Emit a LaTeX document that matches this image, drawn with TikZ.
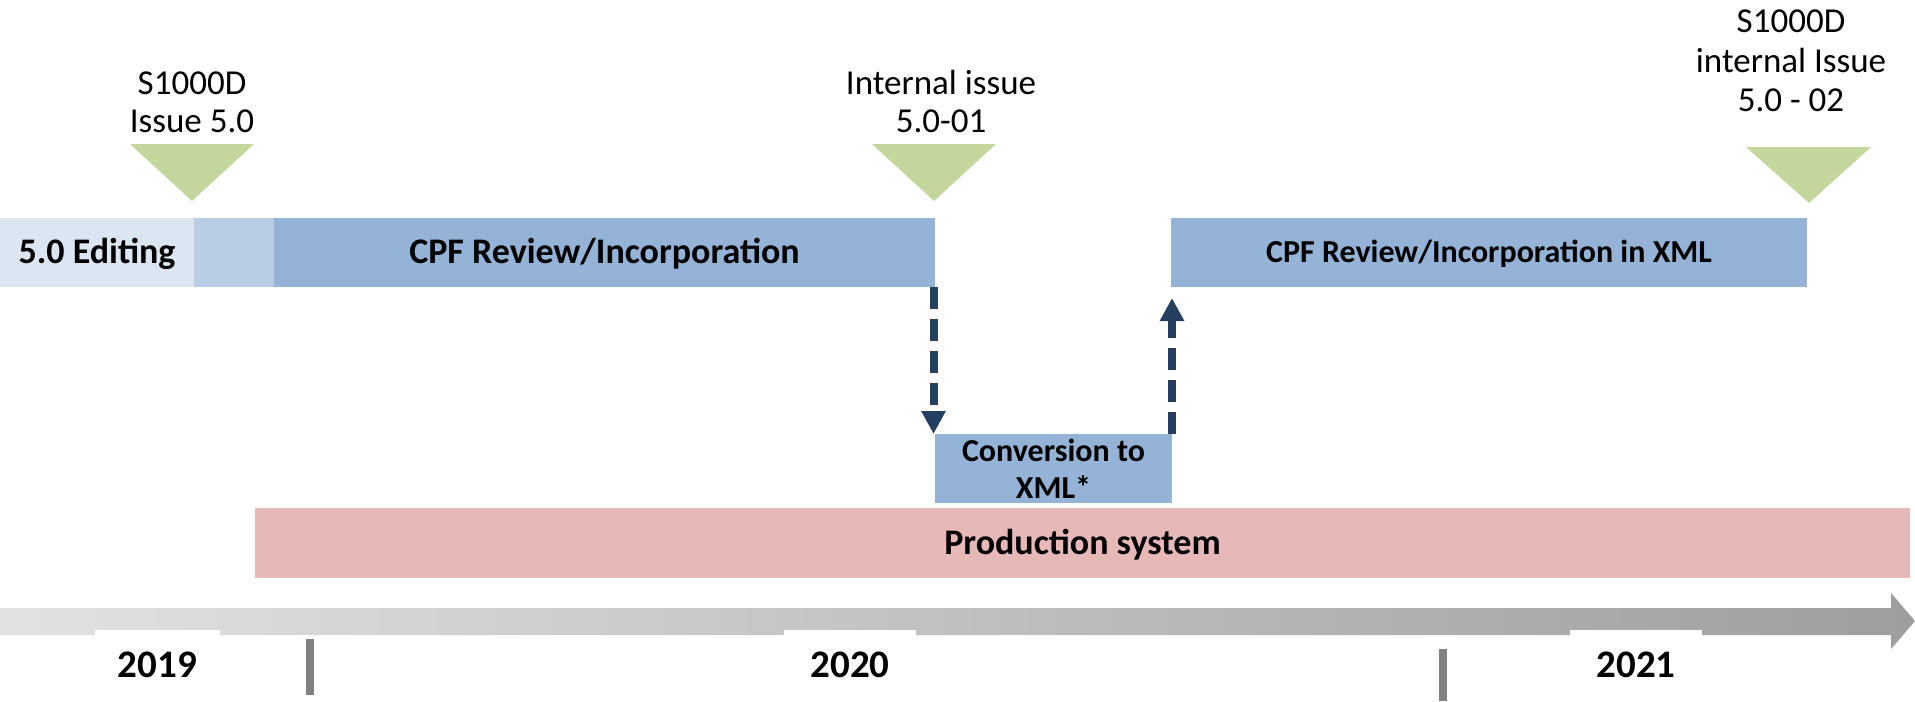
\documentclass[tikz,border=0pt]{standalone}
\usepackage{fontspec}
\setmainfont{Carlito}
\usetikzlibrary{arrows.meta}
\definecolor{editA}{HTML}{DCE6F2}
\definecolor{editB}{HTML}{B9CDE5}
\definecolor{cpfc}{HTML}{95B3D7}
\definecolor{greenc}{HTML}{C3D69B}
\definecolor{prodc}{HTML}{E6B9B8}
\definecolor{arrowc}{HTML}{243F60}
\definecolor{bandL}{HTML}{E2E2E2}
\definecolor{bandR}{HTML}{9E9E9E}
\definecolor{tickc}{HTML}{808080}
\begin{document}
\begin{tikzpicture}[x=0.5pt,y=-0.5pt,
  bar/.style={inner sep=0pt, outer sep=0pt, draw=none, minimum height=34.5pt},
  bartext/.style={font=\bfseries\fontsize{18}{21}\selectfont, text height=11.4pt, text depth=0pt},
  lbl/.style={align=center, inner sep=0pt, anchor=base, font=\fontsize{17.5}{19}\selectfont},
  tri/.style={fill=greenc},
  darr/.style={draw=arrowc, line width=4pt, dash pattern=on 11pt off 5pt, -{Triangle[width=11.5pt,length=11.5pt]}},
  year/.style={fill=white, anchor=north, inner xsep=0pt, inner ysep=11.2pt, text height=12.3pt, text depth=0pt, font=\bfseries\fontsize{19.5}{22}\selectfont},
  tick/.style={draw=tickc, line width=4pt}]
\useasboundingbox (0,0) rectangle (1915,701);

% milestone labels and triangles
\node[lbl] (l1) at (192,133) {S1000D\\Issue 5.0};
\node[lbl] (l2) at (941,133) {Internal issue\\5.0-01};
\node[lbl, font=\fontsize{17.5}{19.75}\selectfont] (l3) at (1791,112) {S1000D\\internal Issue\\5.0 - 02};
\fill[tri] (130,144) -- (254,144) -- (192,201) -- cycle;
\fill[tri] (872,144) -- (996,144) -- (934,201) -- cycle;
\fill[tri] (1746,147) -- (1871,147) -- (1809,203) -- cycle;

% bars
\node[bar, fill=editA, minimum width=97pt, bartext] (edit) at (97,252.5) {5.0 Editing};
\node[bar, fill=editB, minimum width=40pt] (editgap) at (234,252.5) {};
\node[bar, fill=cpfc, minimum width=330.5pt, bartext] (cpf) at (604.5,252.5) {CPF Review/Incorporation};
\node[bar, fill=cpfc, minimum width=318pt, font=\bfseries\fontsize{16}{19}\selectfont, text height=10.1pt, text depth=0pt] (xml) at (1489,252.5) {CPF Review/Incorporation in XML};
\node[bar, fill=cpfc, minimum width=118.5pt, align=center, font=\bfseries\fontsize{16}{18.5}\selectfont] (conv) at (1053.5,468.5) {Conversion to\\XML*};
\node[bar, fill=prodc, minimum width=827.5pt, minimum height=35pt, bartext] (prod) at (1082.5,543) {Production system};

% dashed connectors
\draw[darr] ([xshift=-0.75pt]cpf.south east) -- ([xshift=-0.75pt]conv.north west);
\draw[darr, shorten >=5.5pt] (conv.north east) -- (conv.north east |- xml.south);

% time axis
\shade[left color=bandL, right color=bandR] (0,608) -- (1891,608) -- (1891,593) -- (1915,621) -- (1891,649) -- (1891,635) -- (0,635) -- cycle;
\node[year, minimum width=62.5pt] (y2019) at (157.5,630) {2019};
\node[year, minimum width=66pt] (y2020) at (850,630) {2020};
\node[year, minimum width=66pt] (y2021) at (1636,630) {2021};
\draw[tick] (310,639) -- (310,695);
\draw[tick] (1443,649) -- (1443,701);
\end{tikzpicture}
\end{document}
